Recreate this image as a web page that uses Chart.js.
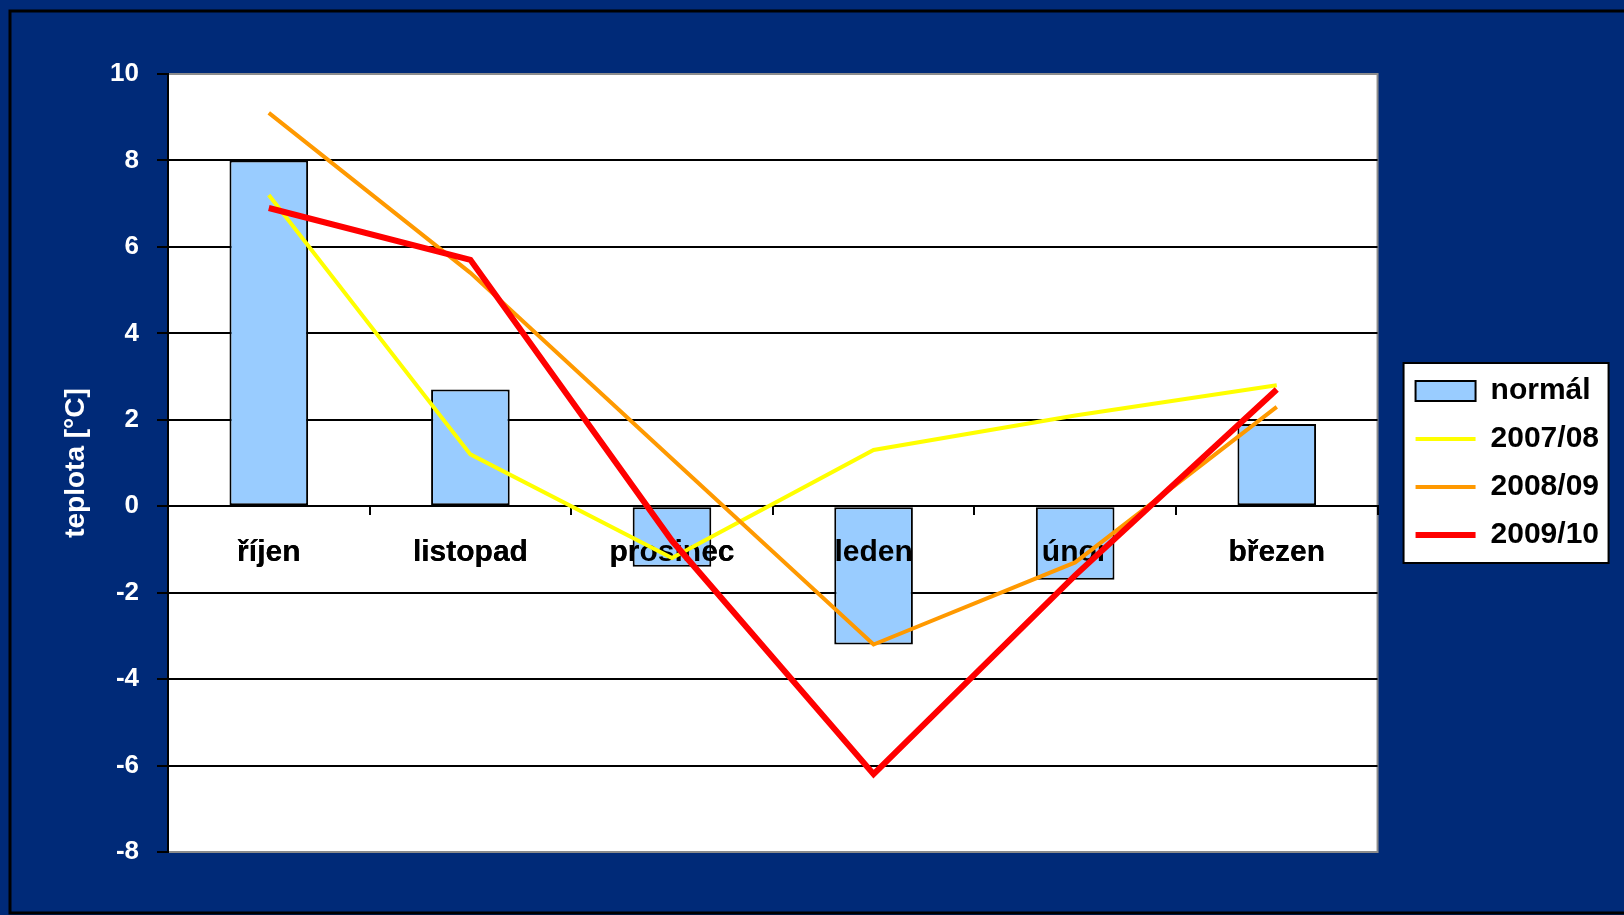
<!DOCTYPE html>
<html>
<head>
<meta charset="utf-8">
<script src="https://cdn.jsdelivr.net/npm/chart.js@4/dist/chart.umd.min.js"></script>
<style>
  html, body { margin: 0; padding: 0; background: #002a78; }
  #wrap { width: 1624px; height: 915px; }
</style>
</head>
<body>
<div id="wrap"><canvas id="teploty" width="1624" height="915"></canvas></div>
<script>
const months = ['říjen', 'listopad', 'prosinec', 'leden', 'únor', 'březen'];
const normal = [8.0, 2.7, -1.4, -3.2, -1.7, 1.9];
const season0708 = [7.2, 1.2, -1.2, 1.3, 2.1, 2.8];
const season0809 = [9.1, 5.4, 1.1, -3.2, -1.3, 2.3];
const season0910 = [6.9, 5.7, -0.8, -6.2, -1.6, 2.7];

const FONT = 'Liberation Sans, Arial, sans-serif';
const NAVY = '#002a78';

// navy background, outer frame, white plot area and legend box
const backdrop = {
    id: 'backdrop',
    beforeDraw(chart) {
        const ctx = chart.ctx;
        const a = chart.chartArea;
        ctx.save();
        ctx.fillStyle = NAVY;
        ctx.fillRect(0, 0, chart.width, chart.height);

        ctx.strokeStyle = '#000';
        ctx.lineWidth = 3;
        ctx.strokeRect(10, 11, chart.width + 20, 902);

        ctx.fillStyle = '#fff';
        ctx.fillRect(a.left, a.top, a.right - a.left, a.bottom - a.top);
        ctx.strokeStyle = '#8c8c8c';
        ctx.lineWidth = 2;
        ctx.strokeRect(a.left, a.top, a.right - a.left, a.bottom - a.top);

        const boxes = chart.legend.legendHitBoxes;
        if (boxes && boxes.length) {
            const first = boxes[0];
            const last = boxes[boxes.length - 1];
            const x = first.left - 12;
            const y = first.top - 13;
            const w = 205;
            const h = last.top + last.height + 13 - y;
            ctx.fillStyle = '#fff';
            ctx.fillRect(x, y, w, h);
            ctx.strokeStyle = '#000';
            ctx.lineWidth = 2;
            ctx.strokeRect(x, y, w, h);
        }
        ctx.restore();
    }
};

// month names sit above the bars but under the lines
const labelsOverBars = {
    id: 'labelsOverBars',
    afterDatasetDraw(chart, args) {
        if (args.index === 0) {
            chart.scales.x.drawLabels(chart.chartArea);
        }
    }
};

new Chart(document.getElementById('teploty'), {
    type: 'bar',
    plugins: [backdrop, labelsOverBars],
    data: {
        labels: months,
        datasets: [{
            label: 'normál',
            data: normal,
            backgroundColor: '#99ccff',
            borderColor: '#000',
            borderWidth: 2,
            borderSkipped: false,
            categoryPercentage: 1,
            barPercentage: 0.39,
            pointStyle: 'rect',
            order: 4
        }, {
            type: 'line',
            label: '2007/08',
            data: season0708,
            borderColor: '#ffff00',
            backgroundColor: '#ffff00',
            borderWidth: 4,
            pointRadius: 0,
            pointStyle: 'line',
            tension: 0,
            order: 3
        }, {
            type: 'line',
            label: '2008/09',
            data: season0809,
            borderColor: '#ff9900',
            backgroundColor: '#ff9900',
            borderWidth: 4,
            pointRadius: 0,
            pointStyle: 'line',
            tension: 0,
            order: 2
        }, {
            type: 'line',
            label: '2009/10',
            data: season0910,
            borderColor: '#ff0000',
            backgroundColor: '#ff0000',
            borderWidth: 6,
            pointRadius: 0,
            pointStyle: 'line',
            tension: 0,
            order: 1
        }]
    },
    options: {
        responsive: false,
        animation: false,
        layout: {
            padding: { left: 40, top: 74, right: 15, bottom: 63 }
        },
        plugins: {
            tooltip: { enabled: false },
            legend: {
                position: 'right',
                labels: {
                    color: '#000',
                    font: { family: FONT, size: 30, weight: 'bold' },
                    usePointStyle: true,
                    pointStyleWidth: 60,
                    boxWidth: 60,
                    boxHeight: 20,
                    padding: 18,
                    sort: (a, b) => a.datasetIndex - b.datasetIndex
                }
            }
        },
        scales: {
            x: {
                position: { y: 0 },
                grid: {
                    offset: true,
                    drawOnChartArea: false,
                    drawTicks: true,
                    tickLength: 8,
                    color: '#000',
                    lineWidth: 2
                },
                border: { display: true, color: '#000', width: 2 },
                ticks: {
                    color: '#000',
                    padding: 21,
                    maxRotation: 0,
                    font: { family: FONT, size: 30, weight: 'bold' }
                }
            },
            y: {
                min: -8,
                max: 10,
                afterFit: (scale) => { scale.width = 128; },
                ticks: {
                    stepSize: 2,
                    color: '#fff',
                    padding: 18,
                    font: { family: FONT, size: 26, weight: 'bold' }
                },
                grid: {
                    color: (c) => (c.tick && (c.tick.value === 10 || c.tick.value === -8)) ? '#8c8c8c' : '#000',
                    tickColor: '#000',
                    lineWidth: 2,
                    tickLength: 11
                },
                border: { display: true, color: '#000', width: 2 },
                title: {
                    display: true,
                    text: 'teplota [°C]',
                    color: '#fff',
                    padding: { top: 19, bottom: 0 },
                    font: { family: FONT, size: 28, weight: 'bold' }
                }
            },
            y2: {
                position: 'right',
                display: true,
                afterFit: (scale) => { scale.width = 20; },
                grid: { display: false },
                border: { display: false },
                ticks: { display: false }
            }
        }
    }
});
</script>
</body>
</html>
